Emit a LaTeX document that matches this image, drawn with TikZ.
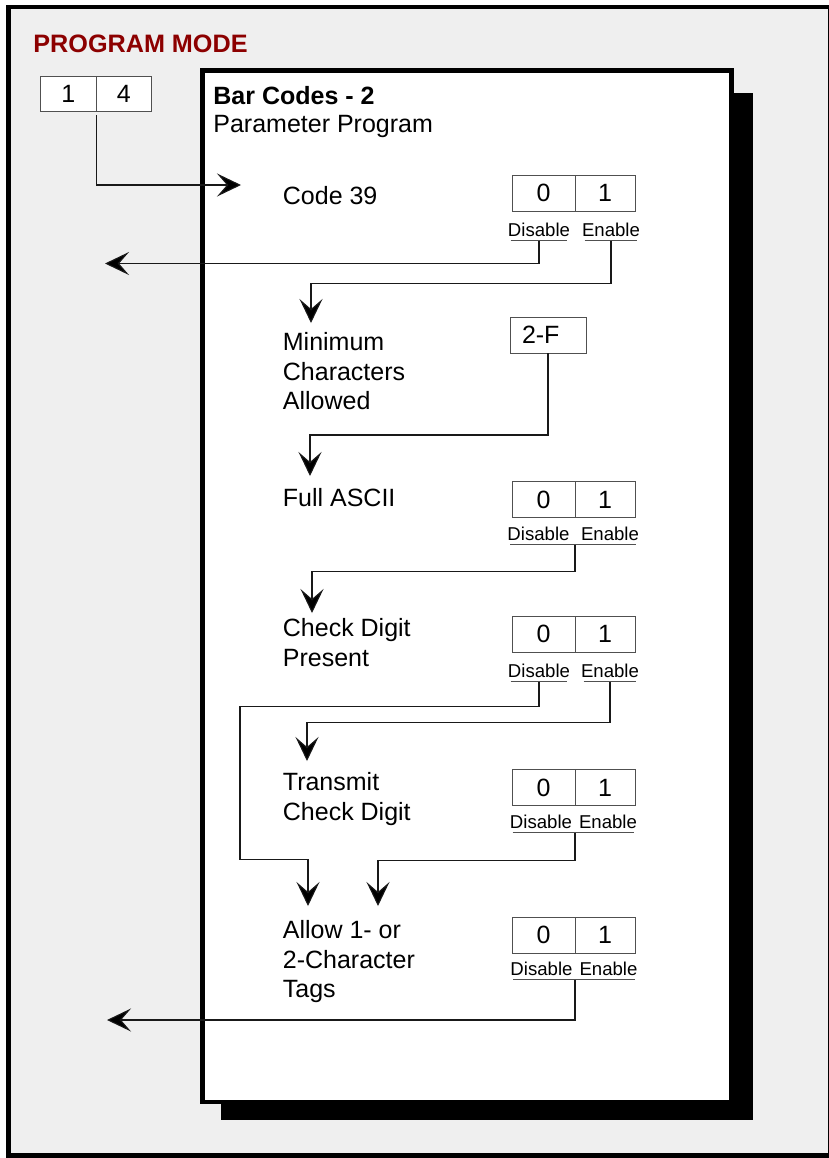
\documentclass[tikz,border=0pt]{standalone}
\usepackage{fontspec}
\setmainfont{Liberation Sans}
\usepackage{xcolor}
\usepackage{tikz}
\usetikzlibrary{arrows.meta,positioning}
\definecolor{modeRed}{RGB}{140,0,0}
\definecolor{pageGray}{RGB}{239,239,239}
\definecolor{lineGray}{RGB}{80,80,80}

\begin{document}
\begin{tikzpicture}[
	x=0.5pt, y=-0.5pt,
	cell/.style={rectangle, draw=lineGray, line width=0.5pt, fill=white, minimum height=18pt,
		inner sep=0pt, outer sep=0pt, font=\fontsize{12.5}{15}\selectfont},
	item/.style={anchor=north west, align=left, inner sep=0pt, font=\fontsize{12.5}{14.75}\selectfont},
	lbl/.style={anchor=base, inner xsep=-1.5pt, inner ysep=2pt, font=\fontsize{9.3}{11}\selectfont},
	uline/.style={draw=lineGray, line width=0.6pt},
	arr/.style={-{Stealth[length=12pt,width=11.5pt,inset=5pt,fill=black]}, line width=0.55pt, draw=black!90},
	]
	\useasboundingbox (0,0) rectangle (829,1158);
	\draw[line width=2.25pt, fill=pageGray] (8.5,7) rectangle (830,1155.5);
	\fill[black] (221,93) rectangle (753,1120);
	\draw[line width=2.25pt, fill=white] (202.5,70.5) rectangle (731.5,1102);
	
	\node[anchor=base west, inner sep=0pt, text=modeRed, font=\fontsize{12.6}{15}\selectfont\bfseries] (mode) at (33,52) {PROGRAM MODE};
	\node[cell, minimum width=28.35pt, minimum height=17.5pt] (mode1) at (68.35,93.5) {1};
	\node[cell, minimum width=27.15pt, minimum height=17.5pt, anchor=west] (mode4) at (mode1.east) {4};
	
	\node[anchor=base west, inner sep=0pt, font=\fontsize{12.5}{15}\selectfont\bfseries] (title) at (213,104) {Bar Codes - 2};
	\node[anchor=base west, inner sep=0pt, font=\fontsize{12.5}{15}\selectfont] (subtitle) at (213,132) {Parameter Program};
	
	\node[item] (code39) at (282.5,186) {Code 39};
	\node[item] (minchar) at (282.5,332) {Minimum\\Characters\\Allowed};
	\node[item] (fullascii) at (282.5,488) {Full ASCII};
	\node[item] (chkdigit) at (282.5,618) {Check Digit\\Present};
	\node[item] (transmit) at (282.5,772) {Transmit\\Check Digit};
	\node[item] (tags) at (282.5,920) {Allow 1- or\\2-Character\\Tags};
	
	\node[cell, minimum width=31.5pt] (c39off) at (543.5,193) {0};
	\node[cell, minimum width=30pt, anchor=west] (c39on) at (c39off.east) {1};
	\node[lbl] (c39dis) at (539,236) {Disable};
	\node[lbl] (c39ena) at (611,236) {Enable};
	
	\node[cell, minimum width=38pt] (minbox) at (548,335) {\makebox[26pt][l]{2-F}};
	
	\node[cell, minimum width=31.5pt] (faoff) at (543.5,499.5) {0};
	\node[cell, minimum width=30pt, anchor=west] (faon) at (faoff.east) {1};
	\node[lbl] (fadis) at (538.5,540) {Disable};
	\node[lbl] (faena) at (610,540) {Enable};
	
	\node[cell, minimum width=31.5pt] (cdoff) at (543.5,634) {0};
	\node[cell, minimum width=30pt, anchor=west] (cdon) at (cdoff.east) {1};
	\node[lbl] (cddis) at (539,677) {Disable};
	\node[lbl] (cdena) at (610,677) {Enable};
	
	\node[cell, minimum width=31.5pt] (troff) at (543.5,787.5) {0};
	\node[cell, minimum width=30pt, anchor=west] (tron) at (troff.east) {1};
	\node[lbl] (trdis) at (541,828) {Disable};
	\node[lbl] (trena) at (608,828) {Enable};
	
	\node[cell, minimum width=31.5pt] (aloff) at (543.5,935) {0};
	\node[cell, minimum width=30pt, anchor=west] (alon) at (aloff.east) {1};
	\node[lbl] (aldis) at (541.5,975) {Disable};
	\node[lbl] (alena) at (608.5,975) {Enable};
	
	\draw[uline] (c39dis.south west) -- (c39dis.south east);
	\draw[uline] (c39ena.south west) -- (c39ena.south east);
	\draw[uline] (fadis.south west) -- (faena.south east);
	\draw[uline] (cddis.south west) -- (cddis.south east);
	\draw[uline] (cdena.south west) -- (cdena.south east);
	\draw[uline] (trdis.south west) -- (trena.south east);
	\draw[uline] (aldis.south west) -- (alena.south east);
	
	\coordinate (c39tip) at (241,185);
	\coordinate (exitcode) at (105,263.5);
	\coordinate (mintip) at (311,323);
	\coordinate (fatip) at (310,476);
	\coordinate (cdtip) at (312,613);
	\coordinate (trtip) at (307,761);
	\coordinate (tagtipa) at (308,906);
	\coordinate (tagtipb) at (378,906);
	\coordinate (exittags) at (107,1020);
	
	\draw[arr, shorten <=2pt] (mode1.south east) |- (c39tip);
	\draw[arr] (c39dis.south) |- (exitcode);
	\draw[arr] (c39ena.south) -- ++(0,43) -| (mintip);
	\draw[arr] (minbox.south) -- ++(0,82) -| (fatip);
	\draw[arr] (faoff.east |- fadis.south) -- ++(0,27) -| (cdtip);
	\draw[arr] (cddis.south) -- ++(0,25) -| ++(-299,153) -| (tagtipa);
	\draw[arr] (cdena.south) -- ++(0,41) -| (trtip);
	\draw[arr] (troff.east |- trdis.south) -- ++(0,28) -| (tagtipb);
	\draw[arr] (aloff.east |- aldis.south) |- (exittags);
\end{tikzpicture}
\end{document}
